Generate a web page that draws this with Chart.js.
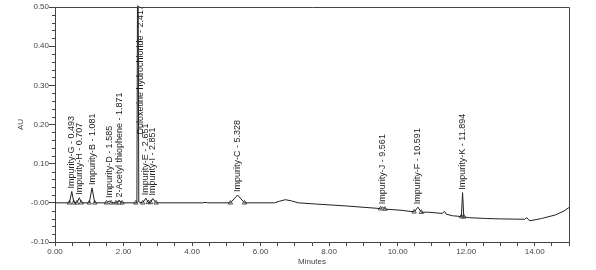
<!DOCTYPE html>
<html>
<head>
<meta charset="utf-8">
<script src="https://cdn.jsdelivr.net/npm/chart.js@4.4.1/dist/chart.umd.min.js"></script>
<style>
  html, body { margin: 0; padding: 0; background: #fff; }
</style>
</head>
<body>
<canvas id="cromatograma" width="596" height="270"></canvas>
<script>
// trace (minutes, AU)
const tiempos = [0.00, 0.42, 0.49, 0.55, 0.64, 0.71, 0.77, 1.00, 1.08, 1.16, 1.50, 1.585, 1.64, 1.78, 1.871, 1.96,
  2.39, 2.417, 2.445, 2.56, 2.651, 2.72, 2.79, 2.851, 2.95, 4.30, 4.38, 4.46, 5.12, 5.328, 5.53, 6.40, 6.55, 6.72,
  6.90, 7.10, 7.60, 8.50, 9.40, 9.50, 9.561, 9.63, 10.10, 10.48, 10.591, 10.69, 10.90, 11.30, 11.37, 11.42, 11.60,
  11.86, 11.894, 11.93, 12.10, 12.60, 13.00, 13.70, 13.77, 13.85, 14.20, 14.60, 14.85, 15.00];
const valores = [0.000, 0.000, 0.029, 0.001, 0.000, 0.013, 0.000, 0.000, 0.038, 0.000, 0.000, 0.005, 0.000, 0.000, 0.006, 0.000,
  0.000, 0.800, 0.002, 0.000, 0.012, 0.001, 0.001, 0.011, 0.000, 0.000, 0.001, 0.000, 0.000, 0.020, 0.000, 0.000, 0.004, 0.008,
  0.005, 0.000, -0.003, -0.008, -0.014, -0.015, -0.011, -0.016, -0.019, -0.023, -0.011, -0.024, -0.024, -0.027, -0.022, -0.029, -0.033,
  -0.035, 0.026, -0.036, -0.038, -0.040, -0.041, -0.042, -0.038, -0.046, -0.040, -0.031, -0.021, -0.012];

// named peaks
const picosNombres = ['Impurity-G', 'Impurity-H', 'Impurity-B', 'Impurity-D', '2-Acetyl thiophene', 'Duloxetine hydrochloride',
  'Impurity-E', 'Impurity-I', 'Impurity-C', 'Impurity-J', 'Impurity-F', 'Impurity-K'];
const picosTiempos = [0.493, 0.707, 1.081, 1.585, 1.871, 2.417, 2.651, 2.851, 5.328, 9.561, 10.591, 11.894];
const picosAlturas = [0.029, 0.013, 0.038, 0.005, 0.006, 0.800, 0.012, 0.011, 0.020, -0.011, -0.011, 0.026];

// integration marks (triangles)
const marcasTiempos = [0.42, 0.55, 0.64, 0.77, 1.00, 1.16, 1.50, 1.64, 1.78, 1.87, 1.96, 2.36, 2.56, 2.72, 2.79, 2.95,
  5.12, 5.53, 9.50, 9.63, 10.48, 10.69, 11.86, 11.93];
const marcasValores = [0, 0, 0, 0, 0, 0, 0, 0, 0, 0, 0, 0, 0, 0.001, 0.001, 0,
  0, 0, -0.015, -0.016, -0.023, -0.024, -0.035, -0.036];

// tick labels
const etiquetasX = [0, 2, 4, 6, 8, 10, 12, 14];
const etiquetasY = [-0.1, 0, 0.1, 0.2, 0.3, 0.4, 0.5];

const fuente = { family: '"Liberation Sans", Arial, sans-serif', size: 8 };
const gris = '#444';

const traza = tiempos.map((t, i) => ({ x: t, y: valores[i] }));
const marcas = marcasTiempos.map((t, i) => ({ x: t, y: marcasValores[i] }));

// frame on top/right and minor ticks on the y axis
const marco = {
  id: 'marco',
  afterDraw(chart) {
    const { ctx, chartArea, scales } = chart;
    ctx.save();
    ctx.strokeStyle = gris;
    ctx.lineWidth = 1;
    ctx.beginPath();
    ctx.moveTo(chartArea.left, chartArea.top + 0.5);
    ctx.lineTo(chartArea.right + 0.5, chartArea.top + 0.5);
    ctx.lineTo(chartArea.right + 0.5, chartArea.bottom);
    ctx.stroke();
    ctx.beginPath();
    for (let k = -5; k <= 25; k++) {
      if (k % 5 === 0) continue;
      const py = Math.round(scales.y.getPixelForValue(k / 50)) + 0.5;
      ctx.moveTo(chartArea.left - 3, py);
      ctx.lineTo(chartArea.left, py);
    }
    ctx.stroke();
    ctx.restore();
  }
};

// rotated peak labels
const rotulos = {
  id: 'rotulos',
  afterDatasetsDraw(chart) {
    const { ctx, chartArea, scales } = chart;
    ctx.save();
    ctx.font = '9px "Liberation Sans", Arial, sans-serif';
    ctx.fillStyle = '#222';
    ctx.textBaseline = 'middle';
    ctx.textAlign = 'left';
    picosNombres.forEach((nombre, i) => {
      const texto = nombre + ' - ' + picosTiempos[i].toFixed(3);
      const ancho = ctx.measureText(texto).width;
      let px = scales.x.getPixelForValue(picosTiempos[i]);
      let py = scales.y.getPixelForValue(picosAlturas[i]) - 3;
      if (py - ancho < chartArea.top - 2) {
        // off-scale peak: push the label down and beside the line
        py = chartArea.top - 2 + ancho;
        px += 3;
      }
      ctx.save();
      ctx.translate(px, py);
      ctx.rotate(-Math.PI / 2);
      ctx.fillText(texto, 0, 0);
      ctx.restore();
    });
    ctx.restore();
  }
};

const ctx = document.getElementById('cromatograma').getContext('2d');
new Chart(ctx, {
  type: 'line',
  data: {
    datasets: [{
      data: traza,
      borderColor: '#222',
      borderWidth: 1,
      pointRadius: 0,
      tension: 0
    }, {
      data: marcas,
      showLine: false,
      pointStyle: 'triangle',
      pointRadius: 2.5,
      borderColor: '#333',
      borderWidth: 0.8,
      backgroundColor: 'rgba(0,0,0,0)'
    }]
  },
  options: {
    responsive: false,
    animation: false,
    layout: { padding: { top: 7, right: 27, left: 0, bottom: 0 } },
    plugins: { legend: { display: false }, tooltip: { enabled: false } },
    scales: {
      x: {
        type: 'linear',
        min: 0,
        max: 15,
        bounds: 'data',
        ticks: {
          stepSize: 0.5,
          autoSkip: false,
          maxRotation: 0,
          padding: 1,
          color: gris,
          font: fuente,
          callback: v => etiquetasX.includes(v) ? v.toFixed(2) : ''
        },
        grid: { drawOnChartArea: false, tickLength: 4, color: gris },
        border: { color: gris },
        title: { display: true, text: 'Minutes', color: gris, font: fuente, padding: { top: 0, bottom: 3 } },
        afterFit: s => { s.height = 28; }
      },
      y: {
        min: -0.1,
        max: 0.5,
        ticks: {
          stepSize: 0.1,
          padding: 0,
          color: gris,
          font: fuente,
          callback: v => etiquetasY.some(e => Math.abs(e - v) < 1e-6) ? v.toFixed(2) : ''
        },
        grid: { drawOnChartArea: false, tickLength: 6, color: gris },
        border: { color: gris },
        title: { display: true, text: 'AU', color: gris, font: fuente, padding: { top: 16, bottom: 0 } },
        afterFit: s => { s.height; s.width = 55; }
      }
    }
  },
  plugins: [marco, rotulos]
});
</script>
</body>
</html>
